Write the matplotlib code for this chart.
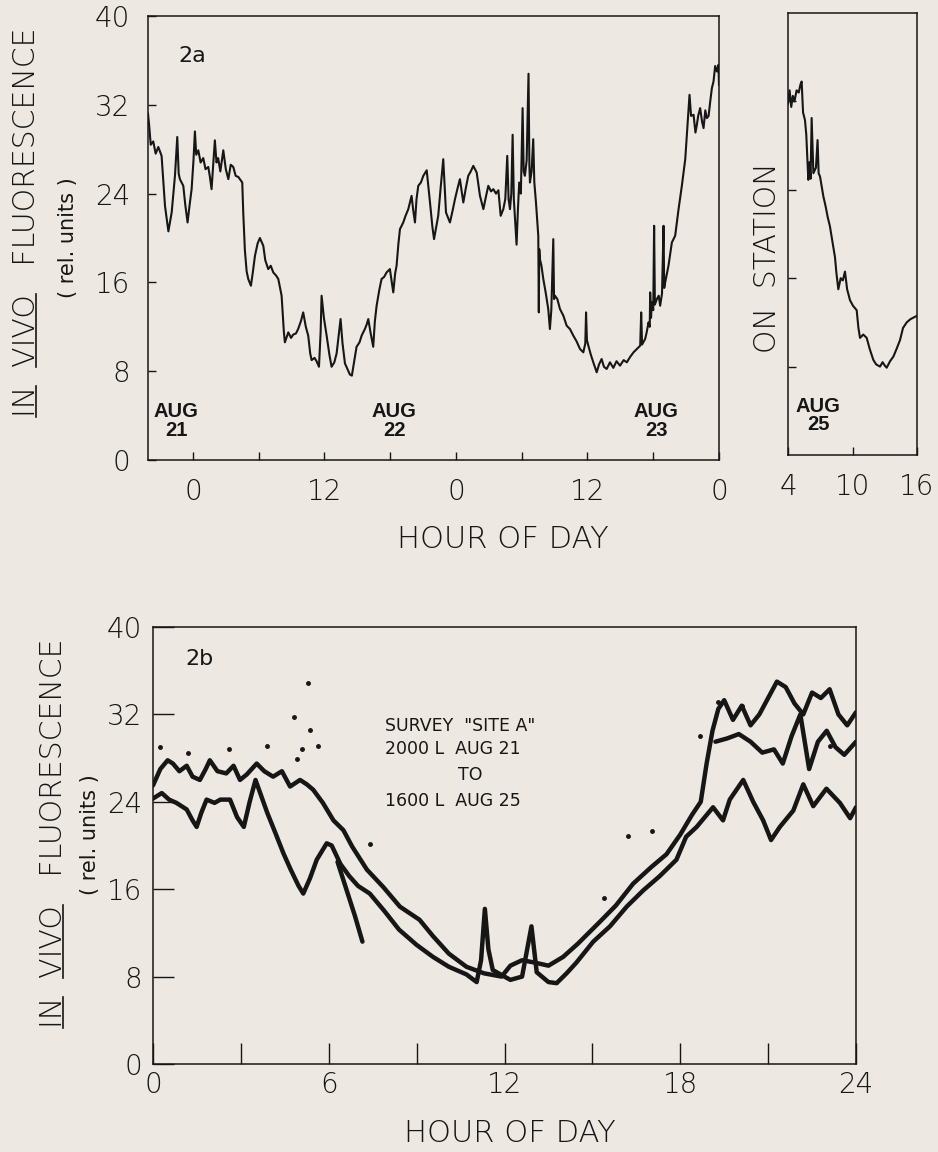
import matplotlib.pyplot as plt

plt.rcParams['font.family'] = ['DejaVu Sans']
plt.rcParams['font.weight'] = 'light'

# %% data

# 2a: underway record, hours counted from Aug 21 00:00
a_hour = [-4.1, -4.0, -3.85, -3.62, -3.4, -3.16, -2.86, -2.7, -2.55, -2.24, -1.94, -1.64, -1.43,
          -1.3, -1.19, -0.88, -0.7, -0.49, -0.3, -0.12, 0.05, 0.18, 0.3, 0.49, 0.7, 0.94, 1.15,
          1.4, 1.55, 1.7, 2.0, 2.15, 2.3, 2.5, 2.77, 3.0, 3.23, 3.45, 3.68, 3.9, 4.14, 4.5, 4.59,
          4.74, 4.9, 5.05, 5.29, 5.45, 5.66, 5.9, 6.11, 6.42, 6.6, 6.87, 7.1, 7.33, 7.6, 7.79,
          8.09, 8.3, 8.39, 8.7, 8.95, 9.15, 9.4, 9.6, 9.85, 10.06, 10.3, 10.52, 10.7, 10.83,
          11.1, 11.28, 11.5, 11.65, 11.74, 11.95, 12.2, 12.45, 12.65, 12.9, 13.11, 13.3, 13.47,
          13.65, 13.87, 14.1, 14.32, 14.5, 14.63, 14.8, 14.93, 15.2, 15.39, 15.69, 15.85, 16.0,
          16.2, 16.45, 16.6, 16.76, 17.0, 17.21, 17.45, 17.67, 17.97, 18.15, 18.28, 18.45,
          18.58, 18.75, 18.89, 19.19, 19.4, 19.65, 19.95, 20.1, 20.26, 20.4, 20.56, 20.8, 21.02,
          21.33, 21.5, 21.63, 21.85, 22.0, 22.2, 22.38, 22.6, 22.84, 23.09, 23.45, 23.7, 23.91,
          24.15, 24.36, 24.67, 24.9, 25.12, 25.35, 25.58, 25.89, 26.19, 26.5, 26.75, 26.95,
          27.2, 27.41, 27.65, 27.87, 28.08, 28.32, 28.5, 28.68, 28.8, 28.93, 29.05, 29.17,
          29.28, 29.38, 29.53, 29.65, 29.77, 29.92, 30.08, 30.18, 30.29, 30.45, 30.62, 30.7,
          30.75, 30.9, 31.05, 31.15, 31.3, 31.42, 31.51, 31.56, 31.6, 31.66, 31.8, 31.97, 32.2,
          32.42, 32.57, 32.7, 32.88, 32.95, 33.03, 33.25, 33.49, 33.8, 34.1, 34.4, 34.71, 35.0,
          35.32, 35.62, 35.8, 35.87, 35.95, 36.08, 36.3, 36.53, 36.84, 37.05, 37.29, 37.5,
          37.75, 38.05, 38.36, 38.65, 38.97, 39.3, 39.59, 39.9, 40.2, 40.5, 40.81, 40.9, 40.98,
          41.26, 41.4, 41.57, 41.68, 41.72, 41.8, 41.87, 42.0, 42.08, 42.15, 42.33, 42.5, 42.63,
          42.8, 42.94, 43.0, 43.09, 43.39, 43.7, 44.0, 44.31, 44.61, 44.92, 45.13, 45.31,
          45.45, 45.68, 45.85, 45.98, 46.1, 46.28, 46.45, 46.59, 46.75, 46.89, 47.05, 47.2,
          47.35, 47.5, 47.65, 47.81, 47.95, 48.0]
a_fluor = [31.2, 30.2, 28.4, 28.7, 27.6, 28.2, 27.4, 25.0, 22.9, 20.6, 22.3, 25.6, 29.1,
           25.8, 25.3, 24.7, 23.0, 21.4, 23.0, 24.4, 27.0, 29.6, 27.5, 27.9, 26.8, 27.2, 26.2,
           26.4, 25.5, 24.4, 28.8, 26.8, 27.2, 26.0, 27.9, 26.2, 25.3, 26.6, 26.4, 25.6, 25.5,
           25.0, 22.3, 18.9, 17.0, 16.3, 15.7, 16.8, 18.4, 19.5, 20.0, 19.3, 18.0, 17.2, 17.5,
           16.9, 16.6, 16.3, 14.8, 11.5, 10.6, 11.5, 11.0, 11.3, 11.4, 11.8, 12.5, 13.3, 12.0,
           11.2, 9.6, 9.0, 9.2, 8.9, 8.4, 11.5, 14.8, 12.8, 11.2, 9.5, 8.4, 8.8, 9.6, 11.2, 12.7,
           10.5, 8.7, 8.2, 7.7, 7.6, 8.4, 9.4, 10.2, 10.6, 11.2, 11.8, 12.2, 12.7, 11.5, 10.2,
           12.5, 13.9, 15.3, 16.3, 16.5, 16.9, 17.2, 16.0, 15.1, 16.8, 17.5, 19.5, 20.8, 21.4,
           22.0, 22.6, 23.8, 22.5, 21.4, 23.5, 24.7, 25.0, 25.6, 26.1, 24.5, 23.2, 21.0, 19.9,
           21.0, 22.0, 24.5, 27.1, 22.3, 21.4, 22.5, 23.5, 24.5, 25.3, 23.2, 24.5, 25.6, 26.0,
           26.5, 25.9, 23.8, 22.6, 23.8, 24.7, 24.2, 24.4, 24.0, 24.3, 22.0, 22.6, 23.5, 27.4,
           23.5, 22.6, 24.0, 29.3, 23.5, 21.8, 19.4, 22.5, 25.0, 24.0, 31.7, 26.0, 25.6, 27.0,
           34.8, 26.5, 25.0, 26.0, 28.9, 25.0, 23.2, 21.5, 20.2, 13.3, 19.0, 18.1, 17.5, 16.3,
           15.0, 13.6, 11.8, 13.5, 19.9, 14.5, 14.8, 14.5, 13.6, 13.0, 12.1, 11.8, 11.2, 10.7,
           10.0, 9.7, 10.5, 13.3, 10.8, 10.3, 9.5, 8.8, 7.9, 8.6, 9.1, 8.4, 8.2, 8.8, 8.3, 8.9,
           8.5, 9.0, 8.8, 9.3, 9.7, 10.0, 10.3, 13.3, 10.4, 10.9, 11.5, 12.4, 12.0, 15.1, 12.8,
           14.2, 13.5, 21.1, 14.0, 14.5, 14.8, 13.9, 15.0, 21.1, 15.5, 16.0, 17.5, 19.6, 20.2,
           22.6, 24.7, 27.1, 30.2, 32.9, 31.0, 31.1, 29.5, 30.2, 31.0, 31.7, 30.5, 29.9, 31.5,
           30.8, 31.0, 32.3, 33.5, 34.1, 35.5, 35.0, 35.6, 33.8]

# 2a: on station, Aug 25
st_hour = [4.0, 4.15, 4.3, 4.45, 4.6, 4.8, 5.0, 5.15, 5.27, 5.4, 5.58, 5.7, 5.89, 6.0, 6.1,
           6.2, 6.36, 6.6, 6.75, 6.85, 6.98, 7.1, 7.29, 7.5, 7.7, 7.9, 8.1, 8.37, 8.5, 8.68,
           8.9, 9.1, 9.3, 9.5, 9.77, 10.05, 10.39, 10.55, 10.7, 11.0, 11.32, 11.6, 11.94, 12.2,
           12.56, 12.8, 13.0, 13.18, 13.5, 13.8, 14.1, 14.42, 14.7, 15.04, 15.4, 15.8, 16.0]
st_fluor = [31.8, 33.0, 31.5, 32.5, 32.0, 33.0, 32.8, 33.5, 33.8, 31.0, 30.3, 29.0, 24.9,
            26.5, 25.0, 30.5, 25.5, 26.0, 28.5, 25.5, 25.2, 24.5, 23.4, 22.5, 21.5, 20.7, 19.5,
            17.9, 16.5, 15.0, 16.0, 15.8, 16.6, 15.0, 14.0, 13.5, 13.1, 11.5, 10.6, 10.9, 10.6,
            9.6, 8.6, 8.2, 8.0, 8.4, 8.1, 7.9, 8.5, 8.9, 9.6, 10.4, 11.5, 12.0, 12.3, 12.5, 12.6]

# 2b: survey "site A", Aug 21-25 folded onto one day
b_hi_hour = [0.0, 0.25, 0.5, 0.68, 0.9, 1.15, 1.35, 1.6, 1.8, 1.94, 2.2, 2.5, 2.75, 2.97, 3.2,
             3.54, 3.8, 4.1, 4.4, 4.68, 5.02, 5.25, 5.47, 5.8, 6.16, 6.5, 6.8, 7.3, 7.86, 8.43,
             9.1, 9.56, 10.1, 10.7, 11.3, 11.9, 12.2, 12.6, 13.0, 13.5, 14.0, 14.5, 15.25, 15.8,
             16.39, 17.0, 17.53, 18.0, 18.4, 18.7, 18.9, 19.1, 19.3, 19.5, 19.8, 20.1, 20.4,
             20.7, 21.0, 21.3, 21.6, 21.9, 22.2, 22.5, 22.8, 23.1, 23.4, 23.7, 24.0]
b_hi_fluor = [25.5, 27.0, 27.8, 27.5, 26.8, 27.3, 26.3, 26.0, 27.0, 27.8, 26.8, 26.6, 27.3,
              26.0, 26.5, 27.5, 26.8, 26.3, 26.8, 25.4, 26.0, 25.6, 25.1, 23.9, 22.3, 21.4,
              19.9, 17.8, 16.2, 14.4, 13.2, 11.7, 10.1, 8.9, 8.3, 8.0, 9.0, 9.5, 9.3, 9.0, 9.8,
              11.0, 13.0, 14.5, 16.5, 18.0, 19.2, 21.0, 22.8, 24.0, 27.5, 30.5, 32.5, 33.3,
              31.5, 32.8, 31.0, 32.0, 33.5, 35.0, 34.5, 33.0, 32.0, 34.0, 33.5, 34.3, 32.0,
              31.0, 32.2]
b_lo_hour = [0.0, 0.3, 0.55, 0.8, 1.15, 1.35, 1.49, 1.65, 1.83, 2.1, 2.3, 2.63, 2.87, 3.1,
             3.3, 3.5, 3.7, 3.9, 4.2, 4.45, 4.7, 4.97, 5.13, 5.36, 5.59, 5.93, 6.1, 6.4, 6.7,
             7.0, 7.4, 7.9, 8.4, 9.0, 9.56, 10.1, 10.7, 11.05, 11.2, 11.33, 11.45, 11.6, 12.2,
             12.6, 12.92, 13.1, 13.5, 13.78, 14.12, 14.46, 15.03, 15.6, 16.17, 16.74, 17.3,
             17.87, 18.2, 18.56, 19.12, 19.46, 19.69, 20.15, 20.49, 20.83, 21.1, 21.4, 21.86,
             22.2, 22.54, 22.99, 23.45, 23.8, 24.0]
b_lo_fluor = [24.3, 24.8, 24.2, 23.9, 23.3, 22.3, 21.7, 23.0, 24.2, 23.9, 24.2, 24.2, 22.6,
              21.7, 24.0, 26.0, 24.5, 23.0, 21.0, 19.3, 17.8, 16.3, 15.6, 17.0, 18.7, 20.2,
              20.0, 18.3, 17.2, 16.3, 15.6, 14.0, 12.3, 10.9, 9.8, 8.9, 8.2, 7.5, 9.5, 14.2,
              10.5, 8.6, 7.7, 8.0, 12.6, 8.4, 7.5, 7.4, 8.3, 9.3, 11.2, 12.6, 14.4, 15.9, 17.2,
              18.7, 20.8, 21.7, 23.5, 22.3, 24.2, 26.0, 24.0, 22.3, 20.5, 21.7, 23.2, 25.6,
              23.6, 25.2, 23.9, 22.5, 23.5]
b_mid_hour = [19.2, 19.6, 20.0, 20.4, 20.8, 21.2, 21.5, 21.8, 22.1, 22.4, 22.7, 23.0, 23.3,
              23.6, 24.0]
b_mid_fluor = [29.5, 29.8, 30.2, 29.5, 28.5, 28.8, 27.5, 30.0, 32.0, 27.0, 29.5, 30.5, 29.0,
               28.3, 29.5]
b_spur_hour = [6.3, 6.6, 6.9, 7.15]
b_spur_fluor = [18.5, 16.0, 13.5, 11.2]
b_dot_hour = [5.3, 4.83, 5.35, 5.07, 5.64, 3.88, 4.9, 7.4, 16.2, 17.05, 15.4, 18.67, 19.3,
              20.1, 23.1, 0.25, 1.2, 2.6]
b_dot_fluor = [34.9, 31.8, 30.6, 28.8, 29.1, 29.1, 27.9, 20.1, 20.9, 21.3, 15.2, 30.0, 33.1,
               32.8, 29.1, 29.0, 28.5, 28.8]

# %% figure
ink = '#161616'
paper = '#EDE9E2'
W, H = 938, 1152
fig = plt.figure(figsize=(W / 100, H / 100), dpi=100, facecolor=paper)


def px_axes(x0, y0, x1, y1):
    'axes from pixel box (left, top, right, bottom)'
    ax = fig.add_axes([x0 / W, 1 - y1 / H, (x1 - x0) / W, (y1 - y0) / H])
    ax.set_facecolor('none')
    for s in ax.spines.values():
        s.set_color(ink)
        s.set_linewidth(1.1)
    return ax


ax_a = px_axes(148, 16, 719, 460)
ax_s = px_axes(788, 13, 917, 455)
ax_b = px_axes(153, 627, 856, 1064)

# 2a
ax_a.plot(a_hour, a_fluor, color=ink, lw=1.5)
ax_a.set_xlim(-4.1, 48)
ax_a.set_ylim(0, 40)
ax_a.set_xticks(range(0, 49, 6))
ax_a.set_xticklabels(['0', '', '12', '', '0', '', '12', '', '0'])
ax_a.set_yticks(range(0, 41, 8))
ax_a.tick_params(direction='in', length=6, width=1, labelsize=20, colors=ink)
ax_a.tick_params(axis='x', pad=13)
ax_a.tick_params(axis='y', pad=13)
ax_a.text(0.053, 0.91, '2a', transform=ax_a.transAxes, fontsize=16, weight='normal',
          ha='left', va='center', color=ink)
for x, lab in [(0.049, 'AUG\n21'), (0.431, 'AUG\n22'), (0.89, 'AUG\n23')]:
    ax_a.text(x, 0.088, lab, transform=ax_a.transAxes, ha='center', va='center',
              family='Liberation Sans', weight='bold', fontsize=14.5, linespacing=0.95,
              color=ink)

# on station
ax_s.plot(st_hour, st_fluor, color=ink, lw=1.5)
ax_s.set_xlim(4, 16)
ax_s.set_ylim(0, 40)
ax_s.set_xticks([4, 10, 16])
ax_s.set_yticks([8, 16, 24, 32])
ax_s.set_yticklabels([])
ax_s.tick_params(direction='in', length=6, width=1, labelsize=20, colors=ink, pad=13)
ax_s.text(0.233, 0.09, 'AUG\n25', transform=ax_s.transAxes, ha='center', va='center',
          family='Liberation Sans', weight='bold', fontsize=14.5, linespacing=0.95, color=ink)
fig.text(767 / W, 1 - 258 / H, 'ON  STATION', rotation=90, ha='center', va='center',
         fontsize=21.5, color=ink)

# 2b
for hh, ff in [(b_hi_hour, b_hi_fluor), (b_lo_hour, b_lo_fluor), (b_mid_hour, b_mid_fluor),
               (b_spur_hour, b_spur_fluor)]:
    ax_b.plot(hh, ff, color=ink, lw=3.2, solid_joinstyle='round', solid_capstyle='round')
ax_b.plot(b_dot_hour, b_dot_fluor, 'o', color=ink, ms=2.5)
ax_b.set_xlim(0, 24)
ax_b.set_ylim(0, 40)
ax_b.set_xticks(range(0, 25, 3))
ax_b.set_xticklabels(['0', '', '6', '', '12', '', '18', '', '24'])
ax_b.set_yticks(range(0, 41, 8))
ax_b.tick_params(direction='in', length=15, width=1, labelsize=20, colors=ink)
ax_b.tick_params(axis='x', pad=5)
ax_b.tick_params(axis='y', pad=8)
ax_b.text(0.0455, 0.927, '2b', transform=ax_b.transAxes, fontsize=16, weight='normal',
          ha='left', va='center', color=ink)
survey = [(0.33, 0.773, 'left', 'SURVEY  "SITE A"'),
          (0.33, 0.720, 'left', '2000 L  AUG 21'),
          (0.451, 0.662, 'center', 'TO'),
          (0.33, 0.602, 'left', '1600 L  AUG 25')]
for x, y, ha, s in survey:
    ax_b.text(x, y, s, transform=ax_b.transAxes, ha=ha, va='center', fontsize=12.5,
              weight='normal', color=ink)

# axis titles
fig.text(503 / W, 1 - 540 / H, 'HOUR OF DAY', ha='center', va='center', fontsize=22,
         color=ink)
fig.text(510 / W, 1 - 1133 / H, 'HOUR OF DAY', ha='center', va='center', fontsize=22,
         color=ink)

ylab = 'IN  VIVO   FLUORESCENCE'
labs = [fig.text(27 / W, 1 - 222 / H, ylab, rotation=90, ha='center', va='center',
                 fontsize=21.5, color=ink),
        fig.text(54 / W, 1 - 833 / H, ylab, rotation=90, ha='center', va='center',
                 fontsize=21.5, color=ink)]
fig.text(68 / W, 1 - 238 / H, '( rel. units )', rotation=90, ha='center', va='center',
         fontsize=15, weight='normal', color=ink)
fig.text(90 / W, 1 - 835 / H, '( rel. units )', rotation=90, ha='center', va='center',
         fontsize=15, weight='normal', color=ink)

# underline "IN" and "VIVO" on the rotated labels
fig.canvas.draw()
r = fig.canvas.get_renderer()


def text_len(s, like):
    t = fig.text(0, 0, s, fontproperties=like.get_fontproperties())
    w = t.get_window_extent(r).width
    t.remove()
    return w


for lab in labs:
    bb = lab.get_window_extent(r)
    em = lab.get_fontsize() * 100 / 72
    w_in = text_len('IN', lab)
    w_iv = text_len('IN  VIVO', lab)
    w_v = text_len('VIVO', lab)
    xu = bb.x1 - 0.17 * em
    for a, b in [(0, w_in), (w_iv - w_v, w_iv)]:
        fig.add_artist(plt.Line2D([xu, xu], [bb.y0 + a, bb.y0 + b], transform=None,
                                  color=ink, lw=1.2))

fig.savefig('out.png', dpi=100, facecolor=paper)
